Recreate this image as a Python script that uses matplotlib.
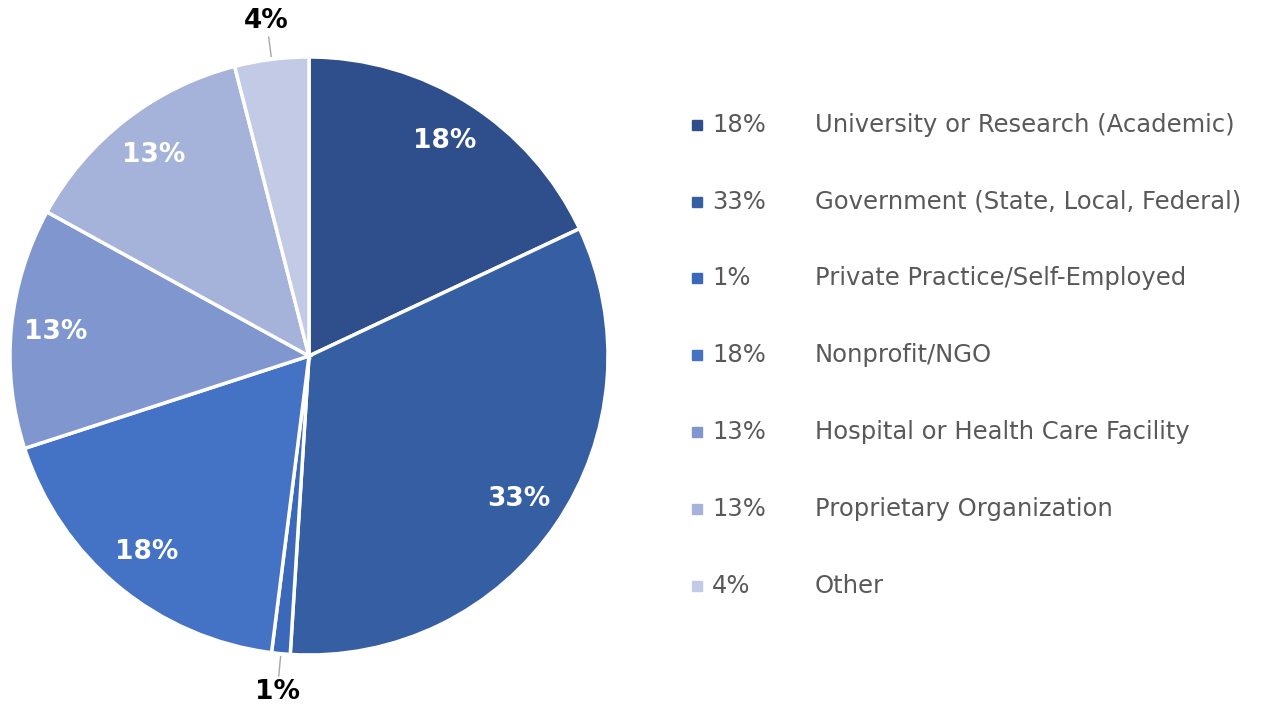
import matplotlib
matplotlib.use("Agg")
import matplotlib.pyplot as plt
import numpy as np

# chart data
categories = [
    "University or Research (Academic)",
    "Government (State, Local, Federal)",
    "Private Practice/Self-Employed",
    "Nonprofit/NGO",
    "Hospital or Health Care Facility",
    "Proprietary Organization",
    "Other",
]
shares = [18, 33, 1, 18, 13, 13, 4]
colors = ["#2E4F8C", "#355EA3", "#3B68B8", "#4472C4", "#7F96CF", "#A5B3DA", "#C2CAE5"]

W, H = 1265, 710
fig = plt.figure(figsize=(W / 100, H / 100), dpi=100)

# pie centre and radius in pixels
cx, cy, r = 309, 356, 299
ax = fig.add_axes([(cx - r) / W, (H - cy - r) / H, 2 * r / W, 2 * r / H])

wedges, _ = ax.pie(shares, colors=colors, startangle=90, counterclock=False,
                   radius=1, wedgeprops=dict(edgecolor="white", linewidth=2.5))
# pie() resets the limits, so set them afterwards
ax.set_xlim(-1, 1)
ax.set_ylim(-1, 1)
ax.axis("off")

for w, v in zip(wedges, shares):
    ang = np.deg2rad((w.theta1 + w.theta2) / 2)
    ca, sa = np.cos(ang), np.sin(ang)
    if v >= 10:
        ax.text(0.85 * ca, 0.85 * sa, f"{v}%", ha="center", va="center",
                color="white", fontsize=19, fontweight="bold")
    else:
        ax.plot([1.01 * ca, 1.075 * ca], [1.01 * sa, 1.075 * sa], color="#A6A6A6",
                lw=1, clip_on=False)
        ax.text(1.13 * ca, 1.13 * sa, f"{v}%", ha="center", va="center",
                color="black", fontsize=19, fontweight="bold", clip_on=False)

# legend drawn by hand
rows_y = [125, 202, 278, 355, 432, 509, 586]
for y, c, v, lab in zip(rows_y, colors, shares, categories):
    fig.patches.append(plt.Rectangle((692 / W, (H - y - 5) / H), 10 / W, 10 / H,
                                     transform=fig.transFigure, color=c))
    fig.text(712 / W, (H - y) / H, f"{v}%", ha="left", va="center",
             color="#595959", fontsize=17.5)
    fig.text(815 / W, (H - y) / H, lab, ha="left", va="center",
             color="#595959", fontsize=17.5)

fig.savefig("out.png", dpi=100, facecolor="white")
